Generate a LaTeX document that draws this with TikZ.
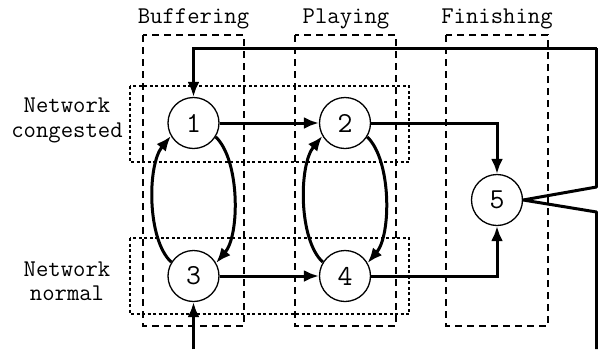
\documentclass[tikz,border=0pt]{standalone}
\usetikzlibrary{arrows.meta}
\begin{document}
\begin{tikzpicture}[x=1pt,y=-1pt,
  lbl/.style={font=\ttfamily\fontsize{24}{28}\selectfont, inner sep=0pt, anchor=base},
  state/.style={circle, draw, line width=1.3pt, fill=white, minimum size=51pt, inner sep=0pt,
    font=\ttfamily\fontsize{29}{32}\selectfont},
  colbox/.style={draw, line width=1.4pt, dash pattern=on 7pt off 5pt},
  rowbox/.style={draw, line width=1.3pt, dash pattern=on 3pt off 2.5pt},
  conn/.style={line width=3pt, -{Latex[length=15pt,width=12pt]}},
  plain/.style={line width=3pt}
]
\useasboundingbox (0,0) rectangle (598,349);
% column boxes
\draw[colbox] (143,35) rectangle (244,326);
\draw[colbox] (295,35) rectangle (396,326);
\draw[colbox] (446,35) rectangle (548,326);
% row boxes
\draw[rowbox] (130,86) rectangle (409,162);
\draw[rowbox] (130,238) rectangle (409,314);
% column labels
\node[lbl] (lb) at (193.5,23.5) {Buffering};
\node[lbl] (lp) at (346,23.5) {Playing};
\node[lbl] (lf) at (497,23.5) {Finishing};
% row labels
\node[lbl] (rc1) at (67,112) {Network};
\node[lbl] (rc2) at (67,137) {congested};
\node[lbl] (rn1) at (67,276) {Network};
\node[lbl] (rn2) at (67,300.5) {normal};
% states
\node[state] (n1) at (193.5,123) {1};
\node[state] (n2) at (345,123) {2};
\node[state] (n3) at (193.5,276) {3};
\node[state] (n4) at (345,276) {4};
\node[state] (n5) at (497,200) {5};
% free ends
\coordinate (tr) at (596.5,48);
\coordinate (r1) at (596.5,187);
\coordinate (r2) at (596.5,212);
\coordinate (br) at (596.5,349);
\coordinate (bin) at (193.5,349);
% straight arrows
\draw[conn] (n1.east) -- (n2.west);
\draw[conn] (n3.east) -- (n4.west);
\draw[conn] (n2.east) -| (n5.north);
\draw[conn] (n4.east) -| (n5.south);
% curved arrows
\draw[conn] (n1.-32) .. controls (240,160) and (240,235) .. (n3.30);
\draw[conn] (n3.148) .. controls (147,240) and (147,165) .. (n1.-150);
\draw[conn] (n2.-32) .. controls (391.5,160) and (391.5,235) .. (n4.30);
\draw[conn] (n4.148) .. controls (298.5,240) and (298.5,165) .. (n2.-150);
% feedback
\draw[plain, line join=round] (br) -- (r2) -- (n5.east) -- (r1) -- (tr);
\draw[conn] (tr) -| (n1.north);
\draw[conn] (bin) -- (n3.south);
\end{tikzpicture}
\end{document}
